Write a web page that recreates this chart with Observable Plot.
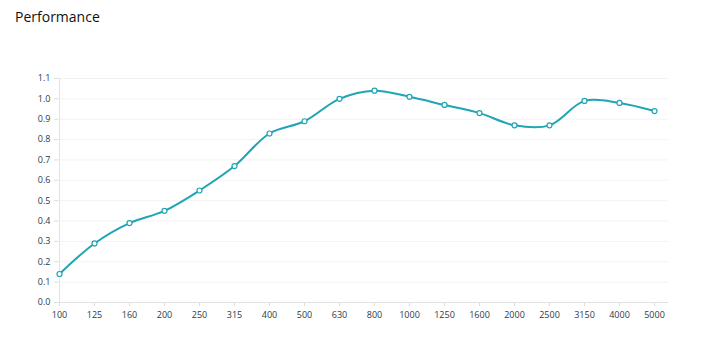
<!DOCTYPE html>
<html>
<head>
<meta charset="utf-8">
<script src="https://cdn.jsdelivr.net/npm/d3@7"></script>
<script src="https://cdn.jsdelivr.net/npm/@observablehq/plot@0.6"></script>
<style>
  body { margin: 0; background: #fff; font-family: "Open Sans", "DejaVu Sans", sans-serif; }
  #title { height: 40px; box-sizing: border-box; padding: 7px 0 0 15px; font-size: 14px; color: #111; }
</style>
</head>
<body>
<div id="title">Performance</div>
<div id="chart"></div>
<script>
const frequencies = ["100","125","160","200","250","315","400","500","630","800","1000","1250","1600","2000","2500","3150","4000","5000"];
const performance = [0.14, 0.29, 0.39, 0.45, 0.55, 0.67, 0.83, 0.89, 1.00, 1.04, 1.01, 0.97, 0.93, 0.87, 0.87, 0.99, 0.98, 0.94];
const yTicks = [0, 0.1, 0.2, 0.3, 0.4, 0.5, 0.6, 0.7, 0.8, 0.9, 1.0, 1.1];

const data = frequencies.map((f, i) => ({f, v: performance[i]}));
const teal = "#1fa5b3";

const chart = Plot.plot({
  width: 705,
  height: 312,
  marginLeft: 58,
  marginRight: 37,
  insetRight: 14,
  marginTop: 38,
  marginBottom: 50,
  style: {fontFamily: "'Open Sans', 'DejaVu Sans', sans-serif", fontSize: "9px", color: "#2b3a4a"},
  x: {type: "point", domain: frequencies, padding: 0},
  y: {domain: [0, 1.1]},
  marks: [
    Plot.gridY(yTicks, {stroke: "#000", strokeOpacity: 0.05}),
    Plot.axisY(yTicks, {tickFormat: d3.format(".1f"), tickSize: 4, stroke: "#ddd", tickPadding: 4, label: null}),
    Plot.axisX({tickSize: 4, stroke: "#ddd", tickPadding: 5, label: null}),
    Plot.ruleX([frequencies[0]], {stroke: "#e2e2e2"}),
    Plot.ruleY([0], {stroke: "#e2e2e2"}),
    Plot.line(data, {x: "f", y: "v", stroke: teal, strokeWidth: 2, curve: "catmull-rom"}),
    Plot.dot(data, {x: "f", y: "v", r: 2.5, fill: "#fff", stroke: teal, strokeWidth: 1.2})
  ]
});
document.getElementById("chart").appendChild(chart);
</script>
</body>
</html>
